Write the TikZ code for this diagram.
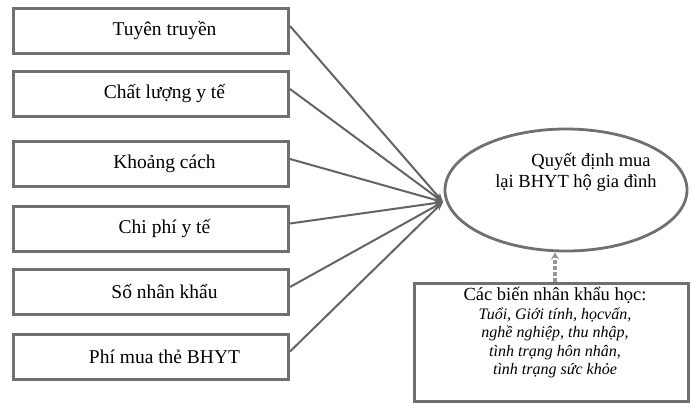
\documentclass[tikz,border=0pt]{standalone}
\usepackage{fontspec}
\setmainfont{Liberation Serif}
\usetikzlibrary{shapes.geometric,arrows.meta}
\definecolor{frame}{RGB}{112,112,112}
\definecolor{wire}{RGB}{100,100,100}
\definecolor{dashgray}{RGB}{150,150,150}
\begin{document}
\begin{tikzpicture}[x=1pt,y=-1pt,
  factor/.style={draw=frame,line width=3pt,minimum width=275pt,minimum height=45pt,
    font=\fontsize{19.5}{21}\selectfont\hspace*{27pt},inner sep=0pt},
  link/.style={draw=wire,line width=2pt,-{Stealth[length=9pt,width=7pt]}},
  goalshape/.style={draw=frame,line width=2.8pt,ellipse,minimum width=242pt,minimum height=122pt},
  demobox/.style={draw=frame,line width=3pt,minimum width=274pt,minimum height=118pt},
  txt/.style={font=\fontsize{18.5}{21}\selectfont,align=center,inner sep=0pt}]
\useasboundingbox (0,0) rectangle (692,413);
\fill[white] (0,0) rectangle (692,413);

% factor boxes on the left (labels sit a little right of centre)
\node[factor] (b1) at (151,31)    {Tuyên truyền};
\node[factor] (b2) at (151,94)    {Chất lượng y tế};
\node[factor] (b3) at (151,164)   {Khoảng cách};
\node[factor] (b4) at (151,228.5) {Chi phí y tế};
\node[factor] (b5) at (151,292)   {Số nhân khẩu};
\node[factor] (b6) at (151,356.5) {Phí mua thẻ BHYT};

% outcome ellipse
\node[goalshape] (goal) at (566,190) {};
\node[txt] (goaltext) at (576,172) {\hspace*{30pt}Quyết định mua\\lại BHYT hộ gia đình};
\coordinate (hub) at (443,202);

% demographic controls
\node[demobox] (demo) at (551.5,342.5) {};
\node[txt,font=\fontsize{18.5}{18.5}\selectfont] (demotext) at (555,332.5)
  {Các biến nhân khẩu học:\\
   \fontsize{16}{18.5}\selectfont\itshape Tuổi, Giới tính, họcvấn,\\
   \fontsize{16}{18.5}\selectfont\itshape nghề nghiệp, thu nhập,\\
   \fontsize{16}{18.5}\selectfont\itshape tình trạng hôn nhân,\\
   \fontsize{16}{18.5}\selectfont\itshape tình trạng sức khỏe};

% connectors
\foreach \b in {b1,b2,b3,b4,b5,b6}
  \draw[link] ([yshift=5pt]\b.east) -- (hub);
\draw[draw=dashgray,line width=3.2pt,dash pattern=on 4pt off 2pt,
  -{Stealth[length=7pt,width=8pt]}] (demo.north -| 555,0) -- (goal.south -| 555,0);
\end{tikzpicture}
\end{document}
